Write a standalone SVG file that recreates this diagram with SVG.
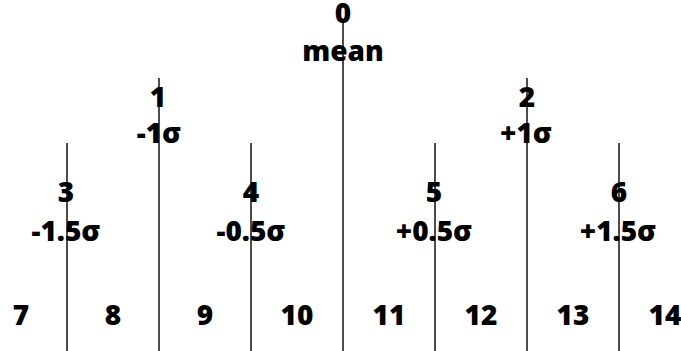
<svg xmlns="http://www.w3.org/2000/svg" width="681" height="351" viewBox="0 0 681 351">
<style>
.t{font-family:"Open Sans","Liberation Sans",sans-serif;font-weight:800;font-size:28px;fill:#000;text-anchor:middle}
.l{stroke:#000;stroke-width:1.4;fill:none}
</style>
<rect width="681" height="351" fill="#fff"/>
<g id="connectors">
<line class="l" x1="343" y1="20" x2="343" y2="351"/>
<line class="l" x1="159" y1="78" x2="159" y2="351"/>
<line class="l" x1="527" y1="78" x2="527" y2="351"/>
<line class="l" x1="67" y1="143" x2="67" y2="351"/>
<line class="l" x1="251" y1="143" x2="251" y2="351"/>
<line class="l" x1="435" y1="143" x2="435" y2="351"/>
<line class="l" x1="619" y1="143" x2="619" y2="351"/>
</g>
<g id="n0"><text class="t" x="343" y="23">0</text><text class="t" x="343" y="61">mean</text></g>
<g id="n1"><text class="t" x="158" y="107">1</text><text class="t" x="159" y="143">-1σ</text></g>
<g id="n2"><text class="t" x="527" y="107">2</text><text class="t" x="526" y="143">+1σ</text></g>
<g id="n3"><text class="t" x="66" y="202">3</text><text class="t" x="66" y="241">-1.5σ</text></g>
<g id="n4"><text class="t" x="251" y="202">4</text><text class="t" x="251" y="241">-0.5σ</text></g>
<g id="n5"><text class="t" x="434" y="202">5</text><text class="t" x="434" y="241">+0.5σ</text></g>
<g id="n6"><text class="t" x="619" y="202">6</text><text class="t" x="618" y="241">+1.5σ</text></g>
<g id="n7"><text class="t" x="21" y="325">7</text></g>
<g id="n8"><text class="t" x="113" y="325">8</text></g>
<g id="n9"><text class="t" x="205" y="325">9</text></g>
<g id="n10"><text class="t" x="297" y="325">10</text></g>
<g id="n11"><text class="t" x="389" y="325">11</text></g>
<g id="n12"><text class="t" x="481" y="325">12</text></g>
<g id="n13"><text class="t" x="573" y="325">13</text></g>
<g id="n14"><text class="t" x="665" y="325">14</text></g>
</svg>
